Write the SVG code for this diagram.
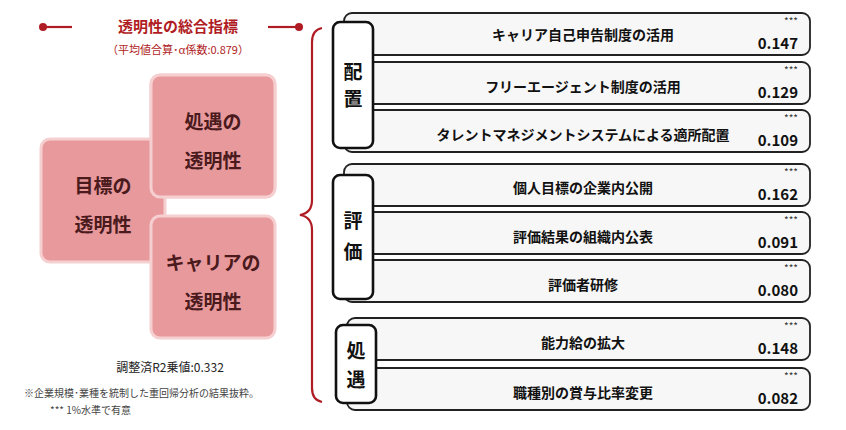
<svg xmlns="http://www.w3.org/2000/svg" width="846" height="430" viewBox="0 0 846 430">
<style>
.t{font-family:"Noto Sans CJK JP","Noto Sans",sans-serif;}
.row{fill:#f7f7f7;stroke:#222;stroke-width:1.8;}
.tab{fill:#fff;stroke:#111;stroke-width:2.6;}
.rt{font-size:14px;font-weight:bold;fill:#111;text-anchor:middle;}
.nv{font-size:15px;font-weight:bold;fill:#111;text-anchor:end;}
.st{font-size:10px;fill:#333;text-anchor:end;}
.ct{font-size:19px;font-weight:bold;fill:#111;text-anchor:middle;}
.pk{fill:#e8999c;stroke:#f6cfd0;stroke-width:3;}
.pt{font-size:19px;font-weight:bold;fill:#4a1a1c;text-anchor:middle;}
.red{stroke:#b01c24;stroke-width:2.2;fill:none;}
</style>
<g id="title">
<line x1="42" y1="27" x2="72" y2="27" class="red" stroke-width="3"/><circle cx="43" cy="27" r="4" fill="#b01c24"/>
<line x1="268" y1="27" x2="300" y2="27" class="red" stroke-width="3"/><circle cx="299" cy="27" r="4" fill="#b01c24"/>
<text x="178" y="32" class="t" font-size="15" font-weight="bold" fill="#b01c24" text-anchor="middle">透明性の総合指標</text>
<text x="178" y="54" class="t" font-size="11" fill="#b01c24" text-anchor="middle">（平均値合算･α係数:0.879）</text>
</g>
<g id="node-shogu"><rect x="151" y="75" width="124" height="122" rx="9" class="pk"/><text x="213" y="129" class="t pt">処遇の</text><text x="213" y="168" class="t pt">透明性</text></g>
<g id="node-mokuhyo"><rect x="41" y="139" width="124" height="123" rx="9" class="pk"/><text x="103" y="193" class="t pt">目標の</text><text x="103" y="232" class="t pt">透明性</text></g>
<rect x="151" y="75" width="124" height="122" rx="9" fill="#e8999c" stroke="#f6cfd0" stroke-width="3"/><text x="213" y="129" class="t pt">処遇の</text><text x="213" y="168" class="t pt">透明性</text>
<g id="node-career"><rect x="151" y="216" width="124" height="122" rx="9" class="pk"/><text x="213" y="270" class="t pt">キャリアの</text><text x="213" y="309" class="t pt">透明性</text></g>
<text x="170" y="372" class="t" font-size="12" fill="#222" text-anchor="middle">調整済R2乗値:0.332</text>
<text x="24" y="397" class="t" font-size="10" fill="#444">※企業規模･業種を統制した重回帰分析の結果抜粋。</text>
<text x="50" y="414" class="t" font-size="10" fill="#444">*** 1%水準で有意</text>
<g id="connectors"><path class="red" d="M322 28 Q312 30 312 42 L312 200 Q312 213 300 215 Q312 217 312 230 L312 388 Q312 400 322 402"/></g>
<g id="rows">
<rect x="344" y="13" width="466" height="42" rx="8" class="row"/><text x="583" y="40" class="t rt">キャリア自己申告制度の活用</text><text x="798" y="25" class="t st">***</text><text x="798" y="49" class="t nv">0.147</text>
<rect x="344" y="62" width="466" height="42" rx="8" class="row"/><text x="583" y="92" class="t rt">フリーエージェント制度の活用</text><text x="798" y="74" class="t st">***</text><text x="798" y="98" class="t nv">0.129</text>
<rect x="344" y="110" width="466" height="42" rx="8" class="row"/><text x="583" y="140" class="t rt">タレントマネジメントシステムによる適所配置</text><text x="798" y="122" class="t st">***</text><text x="798" y="146" class="t nv">0.109</text>
<rect x="344" y="164" width="466" height="42" rx="8" class="row"/><text x="583" y="193" class="t rt">個人目標の企業内公開</text><text x="798" y="176" class="t st">***</text><text x="798" y="200" class="t nv">0.162</text>
<rect x="344" y="212" width="466" height="42" rx="8" class="row"/><text x="583" y="242" class="t rt">評価結果の組織内公表</text><text x="798" y="224" class="t st">***</text><text x="798" y="248" class="t nv">0.091</text>
<rect x="344" y="260" width="466" height="42" rx="8" class="row"/><text x="583" y="290" class="t rt">評価者研修</text><text x="798" y="272" class="t st">***</text><text x="798" y="296" class="t nv">0.080</text>
<rect x="347" y="318" width="463" height="42" rx="8" class="row"/><text x="583" y="348" class="t rt">能力給の拡大</text><text x="798" y="330" class="t st">***</text><text x="798" y="354" class="t nv">0.148</text>
<rect x="347" y="368" width="463" height="42" rx="8" class="row"/><text x="583" y="398" class="t rt">職種別の賞与比率変更</text><text x="798" y="380" class="t st">***</text><text x="798" y="404" class="t nv">0.082</text>
</g>
<g id="tab-haichi"><rect x="333" y="22" width="40" height="126" rx="7" class="tab"/><text x="353" y="79" class="t ct">配</text><text x="353" y="106" class="t ct">置</text></g>
<g id="tab-hyoka"><rect x="333" y="175" width="40" height="124" rx="7" class="tab"/><text x="353" y="228" class="t ct">評</text><text x="353" y="259" class="t ct">価</text></g>
<g id="tab-shogu"><rect x="336" y="325" width="40" height="78" rx="7" class="tab"/><text x="356" y="358" class="t ct">処</text><text x="356" y="387" class="t ct">遇</text></g>
</svg>
